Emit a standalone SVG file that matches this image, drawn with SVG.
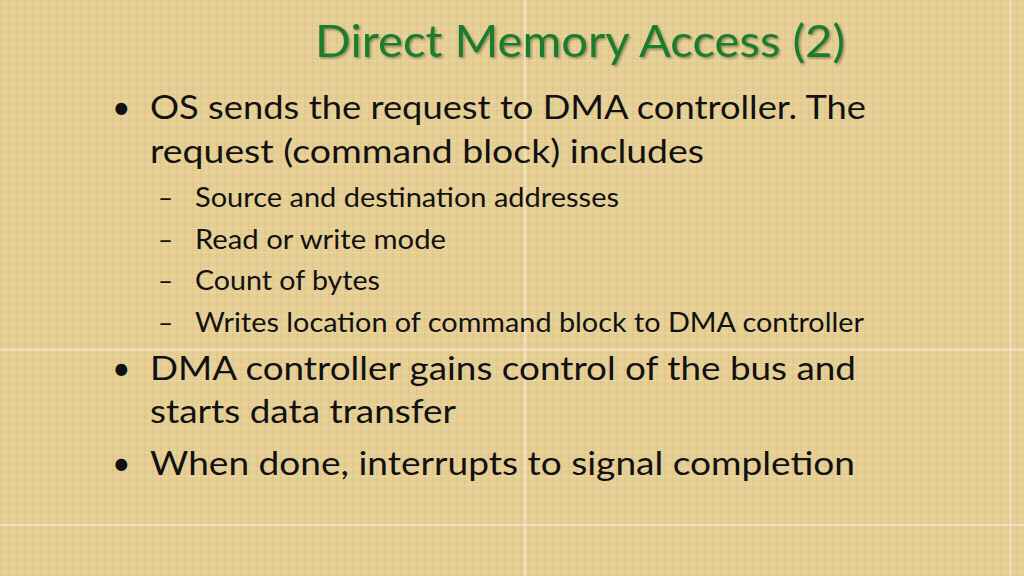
<svg xmlns="http://www.w3.org/2000/svg" width="1024" height="576" viewBox="0 0 1024 576">
<defs>
<filter id="sh"><feDropShadow dx="1.5" dy="1.5" stdDeviation="0.8" flood-color="#000" flood-opacity="0.35"/></filter>
<pattern id="tex" width="8" height="8" patternUnits="userSpaceOnUse">
<rect width="8" height="8" fill="#e6cf95"/>
<rect x="0" y="0" width="2" height="8" fill="#dcc283" opacity="0.6"/>
<rect x="0" y="4" width="8" height="1" fill="#efdba8" opacity="0.6"/>
</pattern>
</defs>
<style>
.b{font-family:Lato,"Noto Sans",sans-serif;font-size:32px;fill:#111}
.s{font-family:Lato,"Noto Sans",sans-serif;font-size:26px;fill:#111}
.g{stroke:#f4ecd6;stroke-width:1.5;opacity:0.8}
</style>
<rect width="1024" height="576" fill="url(#tex)"/>
<g id="grid">
<line class="g" x1="525" y1="0" x2="525" y2="576"/>
<line class="g" x1="1010" y1="0" x2="1010" y2="576"/>
<line class="g" x1="0" y1="350" x2="1024" y2="350"/>
<line class="g" x1="0" y1="525" x2="1024" y2="525"/>
</g>
<g id="title"><text x="580" y="57" text-anchor="middle" font-family="Lato,'Noto Sans',sans-serif" font-size="44" fill="#1e7b2e" filter="url(#sh)" textLength="530" lengthAdjust="spacingAndGlyphs">Direct Memory Access (2)</text></g>
<g id="body">
<text class="b" x="112" y="119">•</text>
<text class="b" x="150" y="119" textLength="716" lengthAdjust="spacingAndGlyphs">OS sends the request to DMA controller. The</text>
<text class="b" x="150" y="163" textLength="554" lengthAdjust="spacingAndGlyphs">request (command block) includes</text>
<text class="s" x="158" y="207">–</text>
<text class="s" x="195" y="207" textLength="424" lengthAdjust="spacingAndGlyphs">Source and destination addresses</text>
<text class="s" x="158" y="249">–</text>
<text class="s" x="195" y="249" textLength="251" lengthAdjust="spacingAndGlyphs">Read or write mode</text>
<text class="s" x="158" y="290">–</text>
<text class="s" x="195" y="290" textLength="185" lengthAdjust="spacingAndGlyphs">Count of bytes</text>
<text class="s" x="158" y="332">–</text>
<text class="s" x="195" y="332" textLength="669" lengthAdjust="spacingAndGlyphs">Writes location of command block to DMA controller</text>
<text class="b" x="112" y="380">•</text>
<text class="b" x="150" y="380" textLength="706" lengthAdjust="spacingAndGlyphs">DMA controller gains control of the bus and</text>
<text class="b" x="150" y="423" textLength="306" lengthAdjust="spacingAndGlyphs">starts data transfer</text>
<text class="b" x="112" y="475">•</text>
<text class="b" x="150" y="475" textLength="705" lengthAdjust="spacingAndGlyphs">When done, interrupts to signal completion</text>
</g>
</svg>
